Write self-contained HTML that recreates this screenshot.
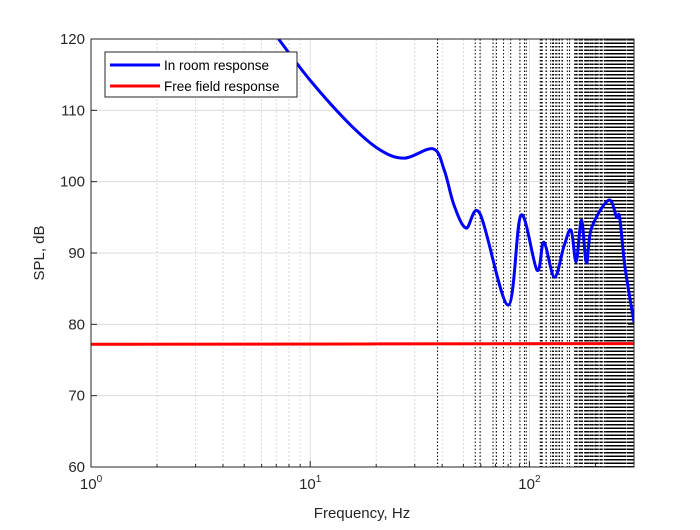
<!DOCTYPE html>
<html><head><meta charset="utf-8"><style>
body{margin:0;background:#fff;}
svg text{font-family:"Liberation Sans",sans-serif;}
</style></head><body>
<svg id="c" width="700" height="525" viewBox="0 0 700 525" xmlns="http://www.w3.org/2000/svg">
<rect width="700" height="525" fill="#fff"/>
<g id="grid"></g><g id="modes"></g><g id="series"></g>
<rect x="91" y="39" width="543" height="428" fill="none" stroke="#262626" stroke-width="1"/>
<g id="ticks"></g>
<text x="362" y="518" font-size="15" text-anchor="middle" fill="#262626">Frequency, Hz</text>
<text transform="translate(44,253) rotate(-90)" font-size="15" text-anchor="middle" fill="#262626">SPL, dB</text>
<g>
<rect x="105" y="52" width="192" height="45" fill="#fff" stroke="#262626" stroke-width="1"/>
<line x1="110" y1="65" x2="160" y2="65" stroke="#0000ff" stroke-width="3"/>
<text x="164" y="70" font-size="13.5" fill="#000">In room response</text>
<line x1="110" y1="86" x2="160" y2="86" stroke="#ff0000" stroke-width="3"/>
<text x="164" y="91" font-size="13.5" fill="#000">Free field response</text>
</g>
</svg>
<script>
const roomFreq=[7.17,10,15.1,20.7,26.9,36.4,40.9,45.3,51.4,59.5,79.9,91.5,108.3,116.4,130,143.9,154.9,163.4,172.8,182,192,230,250,258,273,300];
const roomSPL=[120,114.2,108.1,104.5,103.3,104.6,101.6,96.7,93.5,95.5,82.7,95.3,87.6,91.5,86.6,91,93.2,88.8,94.6,88.6,93.5,97.4,95,95,88,80.3];
const freeFreq=[1,300];
const freeSPL=[77.2,77.3];
const roomDims=[4.5,3.03,2.88];
const yTicks=[60,70,80,90,100,110,120];
const xDecades=[1,10,100];
const NS="http://www.w3.org/2000/svg";
const L=91,R=634,T=39,B=467,fmin=1,fmax=300,ymin=60,ymax=120;
const X=f=>L+(Math.log10(f)-Math.log10(fmin))/(Math.log10(fmax)-Math.log10(fmin))*(R-L);
const Y=v=>B-(v-ymin)/(ymax-ymin)*(B-T);
function mk(t,a,p){const e=document.createElementNS(NS,t);for(const k in a)e.setAttribute(k,a[k]);p.appendChild(e);return e;}
const grid=document.getElementById('grid'),ticks=document.getElementById('ticks'),modes=document.getElementById('modes'),series=document.getElementById('series');
for(const d of xDecades){for(let m=2;m<=9;m++){const f=d*m;if(f>fmax)break;const x=X(f);
const g=mk('line',{x1:x,y1:T,x2:x,y2:B,stroke:'#d0d0d0','stroke-dasharray':'2,2','stroke-width':0.8},grid);


const t=mk('line',{x1:x,y1:B,x2:x,y2:B-3,stroke:'#262626'},ticks);

}}
for(const d of xDecades){const x=X(d);
const g=mk('line',{x1:x,y1:T,x2:x,y2:B,stroke:'#dcdcdc','stroke-width':1},grid);


const t=mk('line',{x1:x,y1:B,x2:x,y2:B-6,stroke:'#262626'},ticks);


const e=Math.round(Math.log10(d));
const tx=mk('text',{x:x,y:B+22,'font-size':15,'text-anchor':'middle',fill:'#262626'},ticks);


tx.textContent='10';
const sp=mk('tspan',{dy:-7,'font-size':10},tx);sp.textContent=String(e);}
for(const v of yTicks){const y=Y(v);
if(v>ymin&&v<ymax){const g=mk('line',{x1:L,y1:y,x2:R,y2:y,stroke:'#dcdcdc','stroke-width':1},grid);

}
const t=mk('line',{x1:L,y1:y,x2:L+6,y2:y,stroke:'#262626'},ticks);


const t2=mk('line',{x1:R,y1:y,x2:R-6,y2:y,stroke:'#262626'},ticks);


const tx=mk('text',{x:L-6,y:y+5,'font-size':15,'text-anchor':'end',fill:'#262626'},ticks);


tx.textContent=v;}
const mf=[];const c=343;
for(let a=0;a<12;a++)for(let b=0;b<12;b++)for(let d=0;d<12;d++){if(a+b+d===0)continue;
const f=c/2*Math.sqrt((a/roomDims[0])**2+(b/roomDims[1])**2+(d/roomDims[2])**2);if(f<=fmax)mf.push(f);}
for(const f of mf){const x=X(f);
const l=mk('line',{x1:x,y1:T,x2:x,y2:B,stroke:'#000','stroke-dasharray':'1.5,2','stroke-width':1},modes);

}
function path(fs,vs){const p=fs.map((f,i)=>[X(f),Y(vs[i])]);let d='M'+p[0][0]+','+p[0][1];
for(let i=0;i<p.length-1;i++){const p0=p[i-1]||p[i],p1=p[i],p2=p[i+1],p3=p[i+2]||p[i+1];
d+=' C'+(p1[0]+(p2[0]-p0[0])/6)+','+(p1[1]+(p2[1]-p0[1])/6)+' '+(p2[0]-(p3[0]-p1[0])/6)+','+(p2[1]-(p3[1]-p1[1])/6)+' '+p2[0]+','+p2[1];}return d;}
mk('clipPath',{id:'clip'},series);mk('rect',{x:L,y:T,width:R-L,height:B-T},document.getElementById('clip'));
const fr=mk('path',{d:path(freeFreq,freeSPL),stroke:'#ff0000','stroke-width':3,fill:'none','clip-path':'url(#clip)'},series);


const rr=mk('path',{d:path(roomFreq,roomSPL),stroke:'#0000ff','stroke-width':3,fill:'none','clip-path':'url(#clip)','stroke-linejoin':'round'},series);


</script>
</body></html>
